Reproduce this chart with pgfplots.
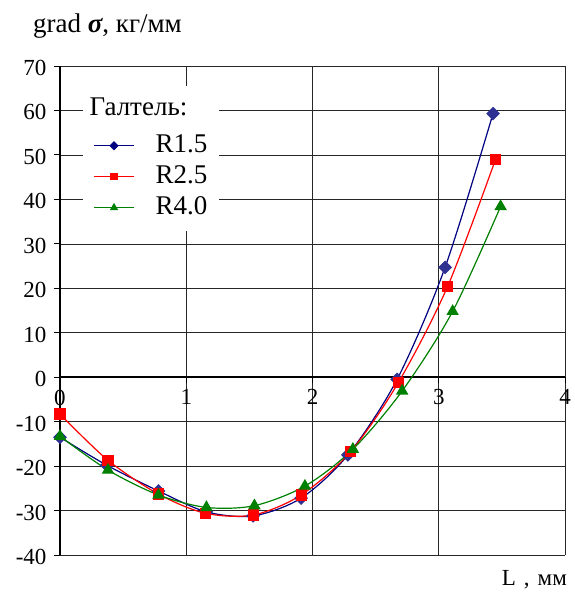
\documentclass[border=0pt]{standalone}
\usepackage{fontspec}
\setmainfont{Liberation Serif}
\usepackage{pgfplots}
\pgfplotsset{compat=1.18}
\definecolor{navyl}{HTML}{000080}
\definecolor{navyf}{HTML}{2E3192}
\definecolor{rr}{HTML}{FF0000}
\definecolor{gg}{HTML}{008000}
\pgfdeclareplotmark{sqdiamond}{%
  \pgfpathmoveto{\pgfqpoint{0pt}{\pgfplotmarksize}}%
  \pgfpathlineto{\pgfqpoint{\pgfplotmarksize}{0pt}}%
  \pgfpathlineto{\pgfqpoint{0pt}{-\pgfplotmarksize}}%
  \pgfpathlineto{\pgfqpoint{-\pgfplotmarksize}{0pt}}%
  \pgfpathclose
  \pgfusepathqfillstroke}
\begin{document}
\begin{tikzpicture}
\path (0,0) rectangle (571pt,594pt);
\begin{axis}[
 at={(60pt,39pt)}, anchor=south west,
 scale only axis, width=505pt, height=489pt,
 xmin=0,xmax=4,ymin=-40,ymax=70,
 axis x line=middle, axis y line=left,
 hide obscured x ticks=false, hide obscured y ticks=false,
 axis line style={-, line width=1.4pt, black},
 xtick={0,1,2,3,4}, ytick={-40,-30,-20,-10,0,10,20,30,40,50,60,70},
 xticklabels={0,1,2,3,4},
 yticklabels={-40,-30,-20,-10,0,10,20,30,40,50,60,70},
 grid=major, grid style={black!85, line width=0.6pt},
 tick style={black, line width=0.8pt}, major tick length=6pt, tick align=outside,
 ticklabel style={font=\fontsize{23}{23}\selectfont},
 xticklabel style={anchor=north, yshift=-3pt},
 yticklabel style={xshift=-4pt, yshift=-2pt},
 legend style={at={(0.046,0.96)}, anchor=north west, draw=none, fill=white,
   font=\fontsize{27}{30}\selectfont, inner ysep=8pt, inner xsep=10pt, row sep=1pt, column sep=19pt,
   nodes={text height=20pt, text depth=6pt, inner sep=2pt}},
 legend cell align=left,
 legend image code/.code={\draw[mark repeat=2,mark phase=2] plot coordinates {(0pt,0pt) (20pt,0pt) (40pt,0pt)};},
 legend image post style={mark options={scale=0.62}},
]
\addlegendimage{empty legend}
\addlegendentry[text depth=12pt]{\hspace{-66pt}Галтель:}
\addplot[navyl, line width=1.2pt, smooth, tension=0.5, mark=sqdiamond, mark size=6pt, mark options={fill=navyf, draw=navyf, solid}] coordinates {
(0,-13.5) (0.37,-19.8) (0.78,-25.6) (1.16,-30.3) (1.53,-31.2) (1.91,-27.2) (2.28,-17.5) (2.67,-0.5) (3.05,24.7) (3.43,59.3)};
\addlegendentry{R1.5}
\addplot[rr, line width=1.2pt, smooth, tension=0.5, mark=square*, mark size=5pt, mark options={fill=rr, draw=rr, solid}] coordinates {
(0,-8.3) (0.38,-18.7) (0.78,-26.3) (1.15,-30.6) (1.53,-31.0) (1.91,-26.5) (2.30,-16.8) (2.68,-1.2) (3.07,20.4) (3.45,49.0)};
\addlegendentry{R2.5}
\addplot[gg, line width=1.2pt, smooth, tension=0.5, mark=triangle*, mark size=6pt, mark options={fill=gg, draw=gg, solid}] coordinates {
(0,-13.3) (0.38,-20.9) (0.78,-26.5) (1.16,-29.3) (1.54,-28.9) (1.94,-24.5) (2.32,-16.2) (2.71,-3.1) (3.11,14.8) (3.49,38.4)};
\addlegendentry{R4.0}
\end{axis}
\node[anchor=base west, font=\fontsize{27}{27}\selectfont, inner sep=0pt] at (33pt,561pt) {grad {\bfseries\itshape σ}, кг/мм};
\node[anchor=base east, font=\fontsize{23}{23}\selectfont, inner sep=0pt] at (567pt,9pt) {L\hspace{0.35em},\hspace{0.35em}мм};
\end{tikzpicture}
\end{document}
